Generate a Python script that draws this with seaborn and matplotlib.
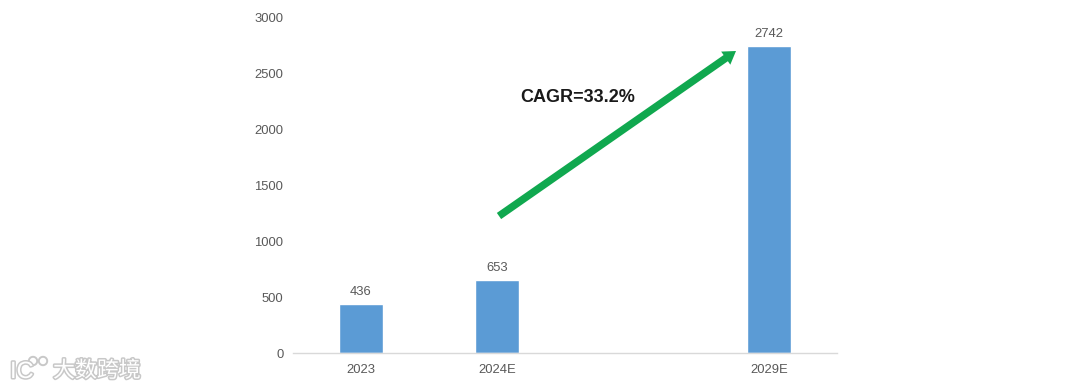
import matplotlib
matplotlib.use('Agg')
import matplotlib.pyplot as plt
import matplotlib.patheffects as pe
from matplotlib.patches import Circle
import seaborn as sns
import pandas as pd

categories = ['2023', '2024E', ' ', '2029E']
values = [436, 653, None, 2742]
y_ticks = [0, 500, 1000, 1500, 2000, 2500, 3000]

W, H = 1080, 390


def fx(px):
    return px / W


def fy(py):
    return 1 - py / H


sns.set_theme(style='white')
plt.rcParams['font.family'] = ['Liberation Sans', 'DejaVu Sans']

df = pd.DataFrame({'year': categories, 'value': values})

fig = plt.figure(figsize=(W / 100, H / 100), dpi=100)
ax = fig.add_axes([fx(293), fy(353), 544 / W, 335.5 / H])

sns.barplot(data=df, x='year', y='value', order=categories, color='#5B9BD5',
            saturation=1, width=0.32, ax=ax)

ax.set_ylim(0, 3000)
ax.set_xlim(-0.5, 3.5)
ax.set_yticks(y_ticks)
ax.set_xlabel('')
ax.set_ylabel('')
ax.tick_params(axis='both', length=0, labelsize=9.4, labelcolor='#595959')
ax.tick_params(axis='x', pad=8)
ax.tick_params(axis='y', pad=7)

for side in ['top', 'right', 'left']:
    ax.spines[side].set_visible(False)
ax.spines['bottom'].set_color('#d9d9d9')
ax.spines['bottom'].set_linewidth(1)

# value labels above the bars
for i, v in enumerate(values):
    if v is not None:
        ax.annotate(str(v), (i, v), xytext=(0, 4.5), textcoords='offset points',
                    ha='center', va='bottom', fontsize=9.4, color='#595959')

# growth arrow
ax.annotate('', xy=(fx(736), fy(51)), xytext=(fx(499), fy(216)),
            xycoords='figure fraction', textcoords='figure fraction',
            arrowprops=dict(arrowstyle='simple,tail_width=5.4,head_width=11.5,head_length=9',
                            mutation_scale=1, facecolor='#10A84F', edgecolor='none',
                            lw=0, shrinkA=0, shrinkB=0))
fig.text(fx(520), fy(97), 'CAGR=33.2%', fontsize=13, fontweight='bold',
         color='#1a1a1a', va='center', ha='left')

# watermark, bottom left
halo = [pe.withStroke(linewidth=2.2, foreground='#c8c8c8')]
fig.text(fx(53), fy(371), '大数跨境', fontsize=15.8, color='white', va='center', ha='left',
         family=['Noto Sans CJK SC', 'DejaVu Sans'], path_effects=halo)
fig.text(fx(10), fy(372), 'IC', fontsize=17, color='white', va='center', ha='left',
         path_effects=halo)
for cx in (33, 43):
    fig.add_artist(Circle((cx, H - 361), 4.2, transform=None, facecolor='white',
                          edgecolor='#c8c8c8', lw=1.4))

fig.savefig('out.png', dpi=100)
